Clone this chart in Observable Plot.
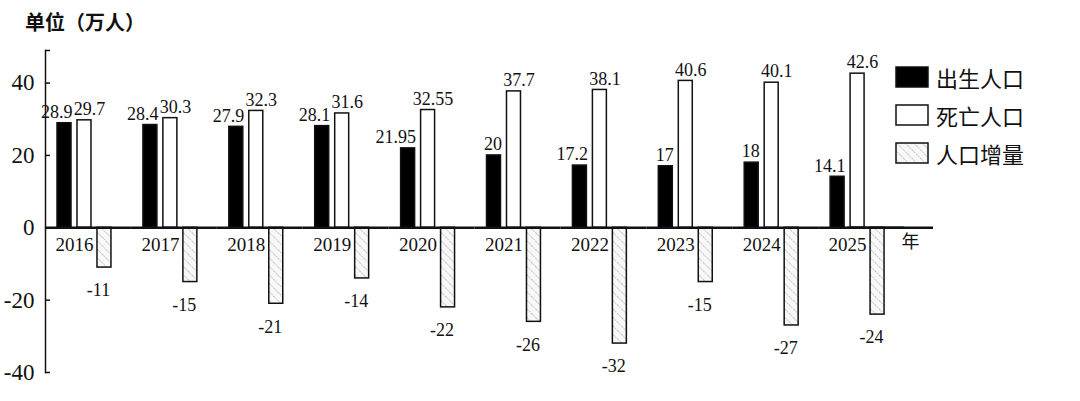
<!DOCTYPE html>
<html><head><meta charset="utf-8">
<script src="https://cdn.jsdelivr.net/npm/d3@7"></script>
<script src="https://cdn.jsdelivr.net/npm/@observablehq/plot@0.6"></script>
<style>
body{margin:0;background:#fff;}
#wrap{position:relative;width:1080px;height:401px;overflow:hidden;background:#fff;}
#chart{position:absolute;left:0;top:0;}
#title{position:absolute;left:25px;top:8px;font-family:"Noto Sans CJK SC";font-size:20px;font-weight:700;line-height:28px;color:#111;}
#legend{position:absolute;left:895px;top:58px;font-family:"Noto Sans CJK SC";font-size:22px;color:#111;}
.row{display:flex;align-items:center;height:38px;}
.row svg{margin-right:7px;display:block}
#chart g[aria-label="y-axis tick label"] text{font-size:23px;}
</style></head>
<body>
<div id="wrap">
<svg width="0" height="0" style="position:absolute"><defs>
<pattern id="hatch" patternUnits="userSpaceOnUse" width="6" height="6" patternTransform="rotate(-45)">
<rect width="6" height="6" fill="#f8f8f8"></rect>
<line x1="0" y1="0" x2="0" y2="6" stroke="#8a8a8a" stroke-width="1" stroke-dasharray="1.5,1"></line>
</pattern></defs></svg>
<div id="chart"></div>
<div id="title">单位（万人）</div>
<div id="legend"></div>
</div>
<script>
const years = [2016, 2017, 2018, 2019, 2020, 2021, 2022, 2023, 2024, 2025];
const births = [28.9, 28.4, 27.9, 28.1, 21.95, 20, 17.2, 17, 18, 14.1];
const deaths = [29.7, 30.3, 32.3, 31.6, 32.55, 37.7, 38.1, 40.6, 40.1, 42.6];
const growth = [-11, -15, -21, -14, -22, -26, -32, -15, -27, -24];
const seriesNames = ["出生人口", "死亡人口", "人口增量"];
const seriesFills = ["#000", "#fff", "url(#hatch)"];
const yTicks = [-40, -20, 0, 20, 40];
const unitLabel = "单位（万人）";
const xUnit = "年";

const rowsOf = (name, vals) => years.map((y, i) => ({year: y, series: name, value: vals[i]}));
const birthRows = rowsOf(seriesNames[0], births);
const deathRows = rowsOf(seriesNames[1], deaths);
const growthRows = rowsOf(seriesNames[2], growth);
const lastYear = years[years.length - 1];

const chart = Plot.plot({
  width: 1080, height: 401,
  marginLeft: 45, marginRight: 176, marginTop: 50, marginBottom: 29,
  style: {fontFamily: "'Liberation Serif', 'DejaVu Serif', serif", fontSize: "18px", background: "transparent", overflow: "visible", color: "#111"},
  fx: {domain: years, padding: 0, round: false, axis: null},
  x: {domain: seriesNames, paddingInner: 0.3, paddingOuter: 0.8, align: 0.376, round: false, axis: null},
  y: {domain: [-40, 49], axis: null},
  marks: [
    Plot.frame({anchor: "left", facetAnchor: "left", stroke: "#111", strokeWidth: 1.5}),
    Plot.axisY({ticks: [...yTicks, 49], tickFormat: d => d === 49 ? "" : String(d), tickSize: -5, tickPadding: 16, fontSize: 23, label: null, stroke: "#111", strokeWidth: 1.5}),
    Plot.barY(birthRows, {fx: "year", x: "series", y: "value", fill: seriesFills[0], stroke: "#111", strokeWidth: 1.5}),
    Plot.barY(deathRows, {fx: "year", x: "series", y: "value", fill: seriesFills[1], stroke: "#111", strokeWidth: 1.5}),
    Plot.barY(growthRows, {fx: "year", x: "series", y: "value", fill: seriesFills[2], stroke: "#111", strokeWidth: 1.5}),
    Plot.ruleY([0], {stroke: "#111", strokeWidth: 2.5}),
    Plot.ruleY([{fx: lastYear, y: 0}], {fx: "fx", y: "y", stroke: "#111", strokeWidth: 2.5, dx: 29}),
    Plot.text(birthRows, {fx: "year", x: "series", y: "value", text: d => String(d.value), textAnchor: "end", dx: 8, dy: -11, fontSize: 18}),
    Plot.text(deathRows, {fx: "year", x: "series", y: "value", text: d => String(d.value), textAnchor: "middle", dx: 5, dy: -11, fontSize: 18}),
    Plot.text(growthRows, {fx: "year", x: "series", y: "value", text: d => String(d.value), textAnchor: "middle", dx: -6, dy: 23, fontSize: 18}),
    Plot.text(birthRows, {fx: "year", x: "series", y: () => 0, text: d => String(d.year), dx: 10, dy: 17, fontSize: 19}),
    Plot.text([{fx: lastYear}], {fx: "fx", y: () => 0, frameAnchor: "right", text: () => xUnit, dx: 15, dy: 14, fontSize: 18, fontFamily: "'Noto Sans CJK SC'"})
  ]
});
document.getElementById("chart").appendChild(chart);
document.getElementById("title").textContent = unitLabel;

const legend = document.getElementById("legend");
seriesNames.forEach((name, i) => {
  const row = document.createElement("div");
  row.className = "row";
  const sw = d3.create("svg").attr("width", 34).attr("height", 22);
  sw.append("rect").attr("x", 1).attr("y", 1).attr("width", 32).attr("height", 20)
    .attr("fill", seriesFills[i]).attr("stroke", "#111").attr("stroke-width", 1.5);
  row.appendChild(sw.node());
  const t = document.createElement("span");
  t.textContent = name;
  row.appendChild(t);
  legend.appendChild(row);
});
</script>
</body></html>
